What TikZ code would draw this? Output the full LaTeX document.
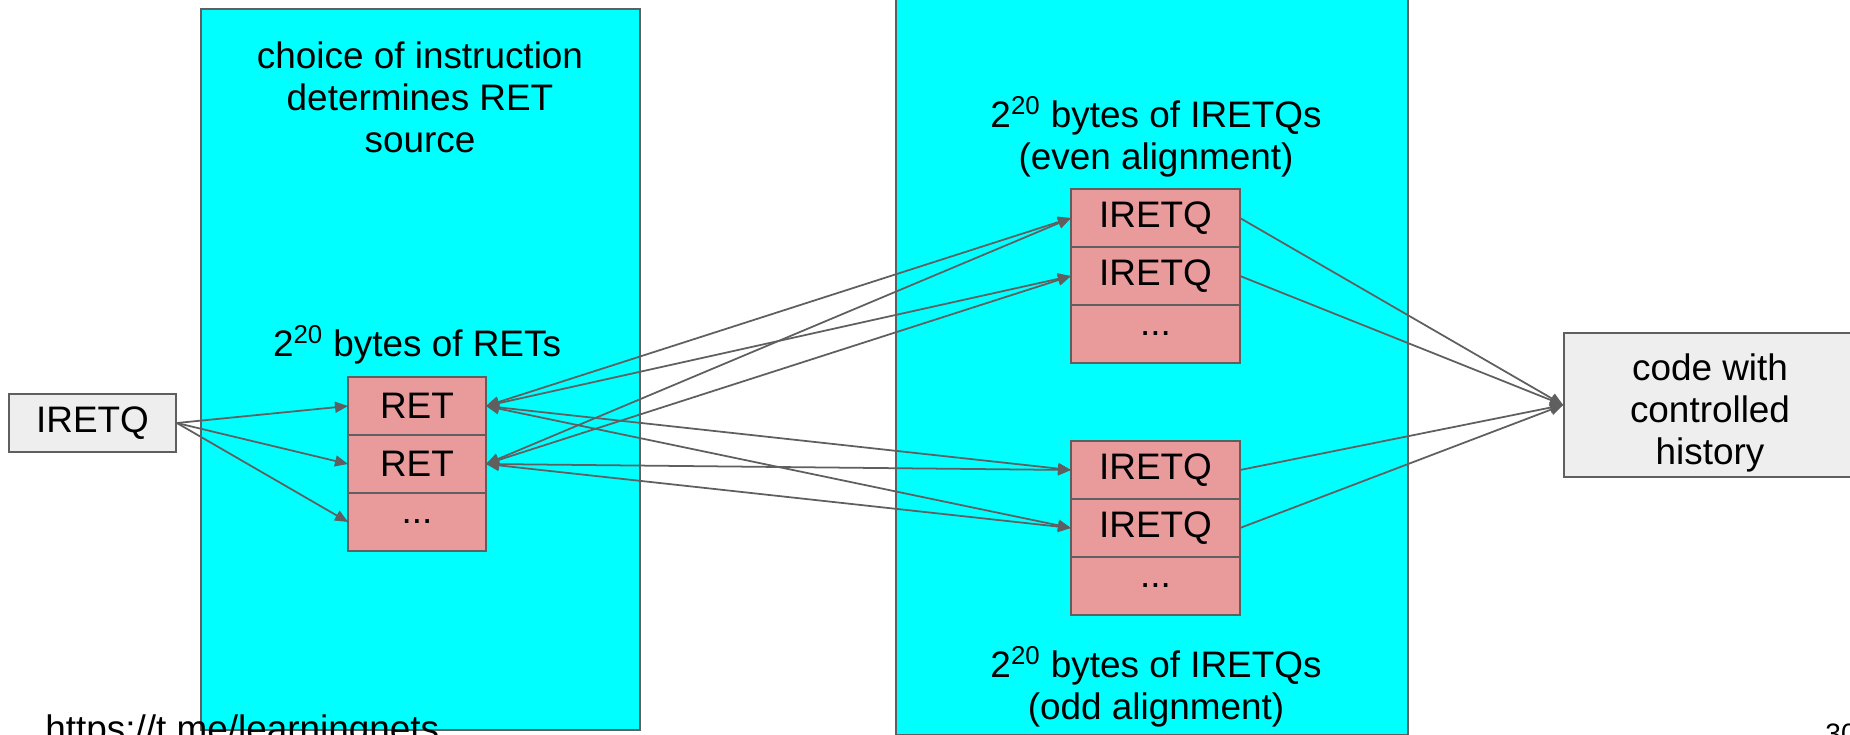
\documentclass[tikz,border=0pt]{standalone}
\usepackage{fontspec}
\setmainfont{Liberation Sans}
\usetikzlibrary{arrows.meta,positioning}
\definecolor{panelcyan}{HTML}{00FFFF}
\definecolor{slotred}{HTML}{E99A9A}
\definecolor{boxgray}{HTML}{EEEEEE}
\definecolor{linegray}{HTML}{5F5F5F}

\begin{document}
\begin{tikzpicture}[x=0.02cm, y=-0.02cm,
  panel/.style={rectangle, draw=linegray, line width=0.8pt, fill=panelcyan, inner sep=0pt},
  txt/.style={font=\fontsize{21}{24}\selectfont, align=center, inner sep=0pt},
  slot/.style={rectangle, draw=linegray, line width=1.1pt, fill=slotred,
               minimum height=1.16cm, outer sep=0pt, font=\fontsize{21}{24}\selectfont},
  plain/.style={rectangle, draw=linegray, line width=1pt, fill=boxgray, align=center,
                font=\fontsize{21}{24}\selectfont},
  arr/.style={-{Triangle[length=0.26cm,width=0.22cm]}, linegray, line width=1pt},
  biarr/.style={{Triangle[length=0.26cm,width=0.22cm]}-{Triangle[length=0.26cm,width=0.22cm]},
                linegray, line width=1pt},
]
\useasboundingbox (0,0) rectangle (1850,734);

% the two memory regions
\node[panel, minimum width=8.78cm, minimum height=14.42cm] (retpanel) at (420.5,369.5) {};
\node[panel, minimum width=10.24cm, minimum height=14.8cm] (iretpanel) at (1152,365) {};

\node[txt] (choice) at (420,97) {choice of instruction\\determines RET\\source};
\node[txt] (retcap) at (417,345) {2\textsuperscript{20} bytes of RETs};
\node[txt] (evencap) at (1156,137) {2\textsuperscript{20} bytes of IRETQs\\(even alignment)};
\node[txt] (oddcap) at (1156,687) {2\textsuperscript{20} bytes of IRETQs\\(odd alignment)};

% RET slots
\node[slot, minimum width=2.76cm] (ret1) at (417,406) {RET};
\node[slot, minimum width=2.76cm, below=0pt of ret1] (ret2) {RET};
\node[slot, minimum width=2.76cm, below=0pt of ret2] (ret3) {...};

% IRETQ slots
\node[slot, minimum width=3.38cm] (even1) at (1155.5,218) {IRETQ};
\node[slot, minimum width=3.38cm, below=0pt of even1] (even2) {IRETQ};
\node[slot, minimum width=3.38cm, below=0pt of even2] (even3) {...};
\node[slot, minimum width=3.38cm] (odd1) at (1155.5,470) {IRETQ};
\node[slot, minimum width=3.38cm, below=0pt of odd1] (odd2) {IRETQ};
\node[slot, minimum width=3.38cm, below=0pt of odd2] (odd3) {...};

\node[plain, minimum width=3.34cm, minimum height=1.16cm] (src) at (92.5,423) {IRETQ};
\node[plain, minimum width=5.84cm, minimum height=2.88cm] (code) at (1710,405) {};
\node[txt] (codetxt) at (1710,413) {code with\\controlled\\history};

\foreach \r in {ret1,ret2,ret3}
  \draw[arr] (src.east) -- (\r.west);
\foreach \r in {ret1,ret2}
  \foreach \q in {even1,even2,odd1,odd2}
    \draw[biarr] (\r.east) -- (\q.west);
\foreach \q in {even1,even2,odd1,odd2}
  \draw[arr] (\q.east) -- (code.west);

\node[txt, anchor=base west] (url) at (45,741) {https://t.me/learningnets};
\node[txt, anchor=base west, font=\fontsize{16}{18}\selectfont] (pagenum) at (1825,743) {30};
\end{tikzpicture}
\end{document}
